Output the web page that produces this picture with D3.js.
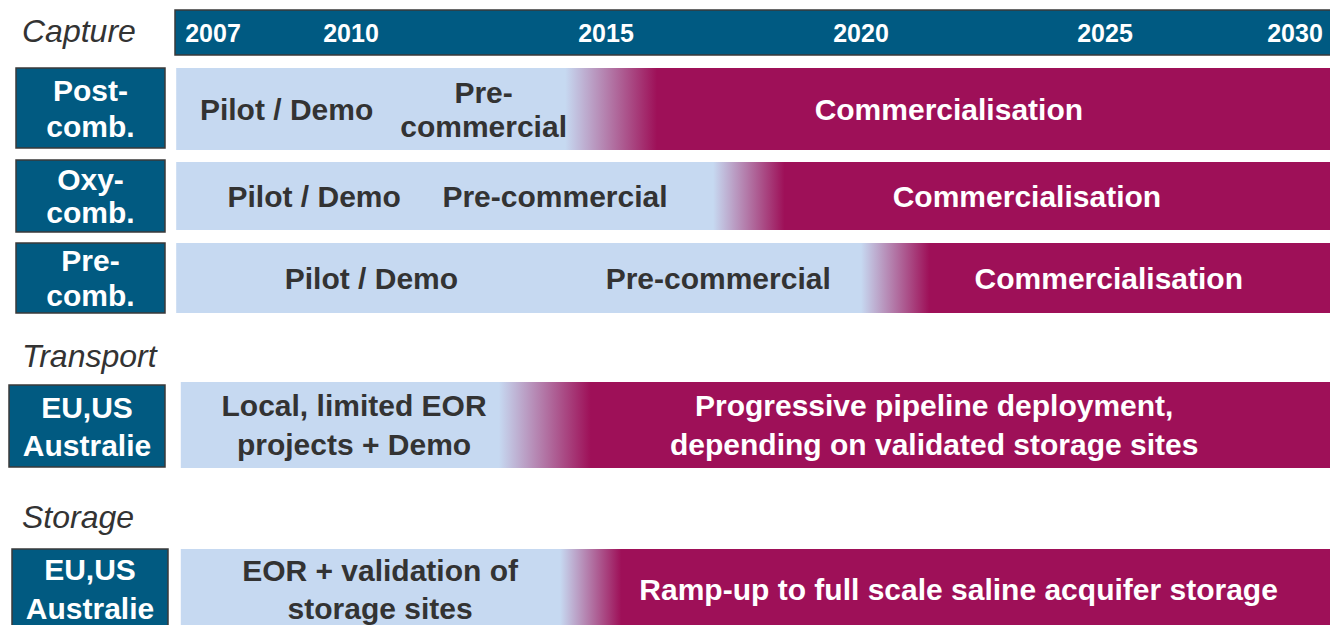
<!DOCTYPE html>
<html>
<head>
<meta charset="utf-8">
<script src="https://cdn.jsdelivr.net/npm/d3@7"></script>
<style>
  body { margin: 0; background: #fff; }
  text { font-family: "Liberation Sans", Arial, sans-serif; }
</style>
</head>
<body>
<script>
// timeline ticks
var years = [2007, 2010, 2015, 2020, 2025, 2030];

// group headings (Capture / Transport / Storage)
var groups = ["Capture", "Transport", "Storage"];

// row labels
var rowLabels = ["Post-\ncomb.", "Oxy-\ncomb.", "Pre-\ncomb.", "EU,US\nAustralie", "EU,US\nAustralie"];

// bar extent in years
var barStart = [2006.2, 2006.2, 2006.2, 2006.3, 2006.3];
var barEnd = [2031, 2031, 2031, 2031, 2031];

// transition from demo phase to commercial phase (years)
var fadeStart = [2014.2, 2017.1, 2020.0, 2012.9, 2014.1];
var fadeEnd = [2016.0, 2018.5, 2021.4, 2014.7, 2015.3];

// phase labels, with the year they sit on
var phaseText = [
  ["Pilot / Demo", "Pre-\ncommercial", "Commercialisation"],
  ["Pilot / Demo", "Pre-commercial", "Commercialisation"],
  ["Pilot / Demo", "Pre-commercial", "Commercialisation"],
  ["Local, limited EOR\nprojects + Demo", "Progressive pipeline deployment,\ndepending on validated storage sites"],
  ["EOR + validation of\nstorage sites", "Ramp-up to full scale saline acquifer storage"]
];
var phaseYear = [
  [2008.6, 2012.6, 2021.8],
  [2009.2, 2014.0, 2023.4],
  [2010.4, 2017.2, 2025.1],
  [2010.06, 2021.5],
  [2010.57, 2022.0]
];
var phaseCommercial = [
  [false, false, true],
  [false, false, true],
  [false, false, true],
  [false, true],
  [false, true]
];

//Width and height
var w = 1330;
var h = 625;

var blue = "#015a81";
var light = "#c6d9f1";
var magenta = "#9e1058";
var dark = "#333333";

// layout of each row (pixels)
var rows = [
  { y: 68, h: 82, bx: 16, bw: 149, by: 68, bh: 80, lh: 34, llh: 36 },
  { y: 162, h: 68, bx: 16, bw: 149, by: 160, bh: 72, lh: 34, llh: 33 },
  { y: 243, h: 70, bx: 16, bw: 149, by: 243, bh: 70, lh: 34, llh: 35 },
  { y: 382, h: 86, bx: 9, bw: 156, by: 385, bh: 82, lh: 39, llh: 38 },
  { y: 549, h: 80, bx: 12, bw: 156, by: 549, bh: 80, lh: 38, llh: 39 }
];
var groupBaseline = [42, 367, 528];

var x = d3.scaleLinear().domain(years).range([213, 351, 606, 861, 1105, 1295]);

var svg = d3.select("body")
  .append("svg")
  .attr("width", w)
  .attr("height", h);

var defs = svg.append("defs");

// header bar with years
svg.append("rect")
  .attr("x", 175).attr("y", 10)
  .attr("width", w - 175 + 2).attr("height", 45)
  .attr("fill", "#005a82")
  .attr("stroke", "#3a3a3a").attr("stroke-width", 1.5);

svg.selectAll(".year")
  .data(years)
  .enter()
  .append("text")
  .attr("class", "year")
  .attr("x", d => x(d))
  .attr("y", 42)
  .attr("text-anchor", "middle")
  .attr("font-size", 25)
  .attr("font-weight", "bold")
  .attr("fill", "#fff")
  .text(d => d);

svg.selectAll(".group")
  .data(groups)
  .enter()
  .append("text")
  .attr("class", "group")
  .attr("x", 22)
  .attr("y", (d, i) => groupBaseline[i])
  .attr("font-size", 32)
  .attr("font-style", "italic")
  .attr("fill", dark)
  .text(d => d);

// multi line text helper, lines centred on cy
function multiline(sel, str, cx, cy, lh) {
  var lines = str.split("\n");
  var t = sel.append("text")
    .attr("text-anchor", "middle")
    .attr("font-size", 30)
    .attr("font-weight", "bold");
  lines.forEach((l, k) => {
    t.append("tspan")
      .attr("x", cx)
      .attr("y", cy + (k - (lines.length - 1) / 2) * lh)
      .attr("dy", "0.36em")
      .text(l);
  });
  return t;
}

rowLabels.forEach((lab, i) => {
  var r = rows[i];

  var grad = defs.append("linearGradient")
    .attr("id", "fade" + i)
    .attr("gradientUnits", "userSpaceOnUse")
    .attr("x1", x(fadeStart[i])).attr("x2", x(fadeEnd[i]))
    .attr("y1", 0).attr("y2", 0);
  grad.append("stop").attr("offset", 0).attr("stop-color", light);
  grad.append("stop").attr("offset", 1).attr("stop-color", magenta);

  var g = svg.append("g").attr("class", "row");

  // label box
  g.append("rect")
    .attr("x", r.bx).attr("y", r.by)
    .attr("width", r.bw).attr("height", r.bh)
    .attr("fill", blue)
    .attr("stroke", "#3a3a3a").attr("stroke-width", 1.5);
  multiline(g, lab, r.bx + r.bw / 2, r.by + r.bh / 2, r.llh).attr("fill", "#fff");

  // phase bar
  g.append("rect")
    .attr("x", x(barStart[i])).attr("y", r.y)
    .attr("width", x(barEnd[i]) - x(barStart[i]))
    .attr("height", r.h)
    .attr("fill", "url(#fade" + i + ")");

  phaseText[i].forEach((t, j) => {
    multiline(g, t, x(phaseYear[i][j]), r.y + r.h / 2, r.lh)
      .attr("fill", phaseCommercial[i][j] ? "#fff" : dark);
  });
});
</script>
</body>
</html>
